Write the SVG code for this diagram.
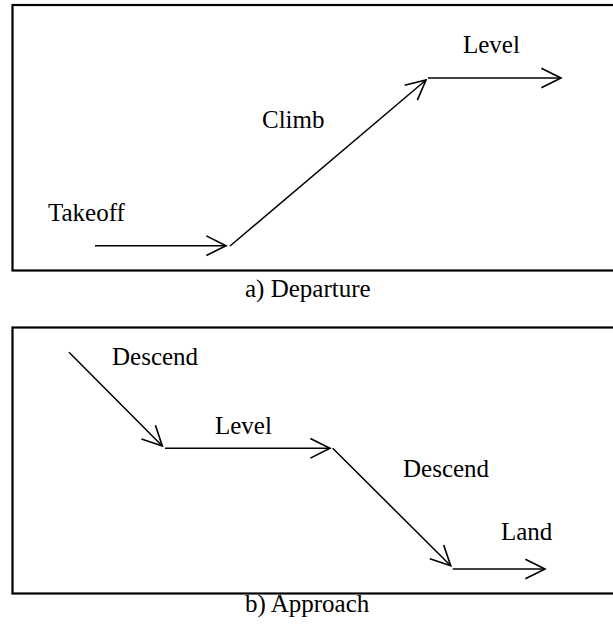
<svg xmlns="http://www.w3.org/2000/svg" width="613" height="626" viewBox="0 0 613 626">
  <style>
    .frame { fill: none; stroke: #000; stroke-width: 2.2; }
    .seg { fill: none; stroke: #000; stroke-width: 1.5; marker-end: url(#vhead); }
    .lbl { font-family: "Liberation Serif", "Times New Roman", serif; font-size: 25px; fill: #000; }
  </style>
  <defs>
    <marker id="vhead" markerUnits="userSpaceOnUse" markerWidth="24" markerHeight="24" viewBox="-20 -11 22 22" refX="0" refY="0" orient="auto" overflow="visible">
      <path d="M-18,-9 L0,0 L-18,9" fill="none" stroke="#000" stroke-width="1.5"/>
    </marker>
  </defs>

  <g id="panel-a">
    <rect class="frame" x="12.5" y="5" width="610" height="265.5"/>
    <text class="lbl" x="245" y="297">a) Departure</text>
  </g>
  <g id="panel-b">
    <rect class="frame" x="12.5" y="327.5" width="610" height="266"/>
    <text class="lbl" x="245" y="612">b) Approach</text>
  </g>

  <g id="connectors">
    <line id="takeoff-arrow" class="seg" x1="95" y1="245.7" x2="226" y2="245.7"/>
    <line id="climb-arrow" class="seg" x1="230" y1="246" x2="426" y2="80"/>
    <line id="level1-arrow" class="seg" x1="428" y1="78" x2="561" y2="78"/>
    <line id="descend1-arrow" class="seg" x1="69" y1="352.3" x2="162.3" y2="446"/>
    <line id="level2-arrow" class="seg" x1="165" y1="448.3" x2="330" y2="448.3"/>
    <line id="descend2-arrow" class="seg" x1="332.7" y1="448.3" x2="450.7" y2="565.7"/>
    <line id="land-arrow" class="seg" x1="452.7" y1="569" x2="545" y2="569"/>
  </g>

  <g id="takeoff"><text class="lbl" x="48" y="221">Takeoff</text></g>
  <g id="climb"><text class="lbl" x="262" y="128">Climb</text></g>
  <g id="level1"><text class="lbl" x="463" y="53">Level</text></g>
  <g id="descend1"><text class="lbl" x="112" y="365">Descend</text></g>
  <g id="level2"><text class="lbl" x="215" y="434">Level</text></g>
  <g id="descend2"><text class="lbl" x="403" y="477">Descend</text></g>
  <g id="land"><text class="lbl" x="501" y="540">Land</text></g>
</svg>
